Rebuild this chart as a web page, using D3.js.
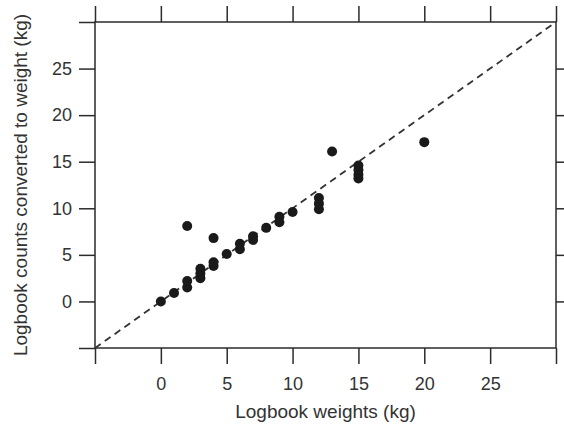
<!DOCTYPE html>
<html>
<head>
<meta charset="utf-8">
<script src="https://cdn.jsdelivr.net/npm/d3@7"></script>
<style>
  body { margin: 0; background: #fff; }
  svg { display: block; font-family: "Liberation Sans", Arial, sans-serif; }
</style>
</head>
<body>
<svg id="chart" width="564" height="424"></svg>
<script>
// Logbook weights (kg) vs logbook counts converted to weight (kg)
const logbookWeights = [0, 1, 2, 2, 2, 3, 3, 3, 4, 4, 4, 5, 6, 6, 7, 7, 8, 9, 9, 10, 12, 12, 12, 13, 15, 15, 15, 15, 20];
const convertedCounts = [0, 0.9, 1.5, 2.2, 8.1, 2.5, 3.0, 3.5, 3.8, 4.2, 6.8, 5.1, 5.6, 6.2, 6.6, 7.0, 7.9, 8.5, 9.1, 9.6, 9.9, 10.5, 11.1, 16.1, 13.2, 13.6, 14.1, 14.6, 17.1];
const xTicks = [-5, 0, 5, 10, 15, 20, 25, 30];
const yTicks = [-5, 0, 5, 10, 15, 20, 25, 30];
const labelledTicks = [0, 5, 10, 15, 20, 25];
const domain = [-5, 30];

const svg = d3.select("#chart");
const m = { left: 95, right: 556, top: 22, bottom: 348 };
const ink = "#2b2b2b";
const textInk = "#333";

const x = d3.scaleLinear().domain(domain).range([m.left, m.right]);
const y = d3.scaleLinear().domain(domain).range([m.bottom, m.top]);

const fmt = d => labelledTicks.includes(d) ? d : "";
const tickLen = 16;

function styleAxis(g) {
  g.select(".domain").remove();
  g.selectAll(".tick line").attr("stroke", ink).attr("stroke-width", 1.5);
  g.selectAll(".tick text").attr("fill", textInk).attr("font-size", 18)
    .attr("font-family", "Liberation Sans, Arial, sans-serif");
}

svg.append("g").attr("transform", `translate(0,${m.bottom})`)
  .call(d3.axisBottom(x).tickValues(xTicks).tickFormat(fmt).tickSize(tickLen).tickPadding(13))
  .call(styleAxis);
svg.append("g").attr("transform", `translate(0,${m.top})`)
  .call(d3.axisTop(x).tickValues(xTicks).tickFormat("").tickSize(tickLen))
  .call(styleAxis);
svg.append("g").attr("transform", `translate(${m.left},0)`)
  .call(d3.axisLeft(y).tickValues(yTicks).tickFormat(fmt).tickSize(tickLen).tickPadding(7))
  .call(styleAxis);
svg.append("g").attr("transform", `translate(${m.right},0)`)
  .call(d3.axisRight(y).tickValues(labelledTicks).tickFormat("").tickSize(tickLen))
  .call(styleAxis);

// plot frame
svg.append("rect")
  .attr("x", m.left).attr("y", m.top)
  .attr("width", m.right - m.left).attr("height", m.bottom - m.top)
  .attr("fill", "none").attr("stroke", ink).attr("stroke-width", 1.5);

// 1:1 reference line
svg.append("line")
  .attr("x1", x(domain[0])).attr("y1", y(domain[0]))
  .attr("x2", x(domain[1])).attr("y2", y(domain[1]))
  .attr("stroke", "#333").attr("stroke-width", 1.8)
  .attr("stroke-dasharray", "7,5");

// observations
svg.append("g").selectAll("circle")
  .data(logbookWeights.map((w, i) => [w, convertedCounts[i]]))
  .join("circle")
  .attr("cx", d => x(d[0]))
  .attr("cy", d => y(d[1]))
  .attr("r", 5)
  .attr("fill", "#1a1a1a");

// axis titles
svg.append("text")
  .attr("x", (m.left + m.right) / 2).attr("y", 418)
  .attr("text-anchor", "middle").attr("font-size", 19).attr("fill", textInk)
  .text("Logbook weights (kg)");
svg.append("text")
  .attr("transform", `translate(27,${(m.top + m.bottom) / 2}) rotate(-90)`)
  .attr("text-anchor", "middle").attr("font-size", 19).attr("fill", textInk)
  .text("Logbook counts converted to weight (kg)");
</script>
</body>
</html>
